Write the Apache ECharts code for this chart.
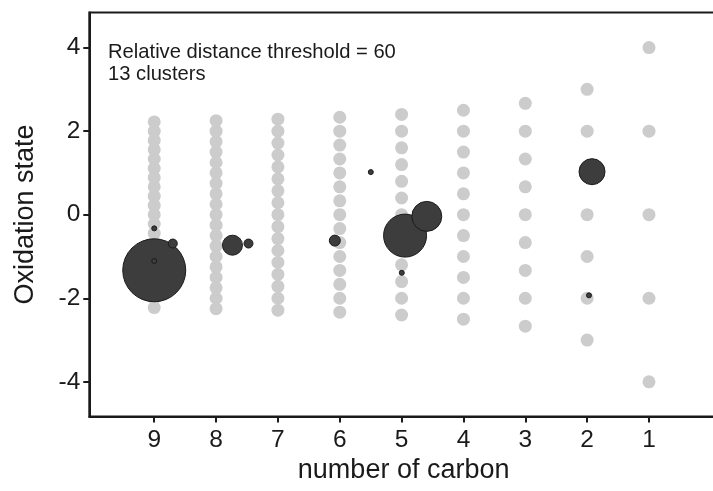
<!DOCTYPE html>
<html>
<head>
<meta charset="utf-8">
<script src="https://cdn.jsdelivr.net/npm/echarts@6/dist/echarts.min.js"></script>
<style>
html,body{margin:0;padding:0;background:#fff;}
#chart{width:713px;height:491px;}
</style>
</head>
<body>
<div id="chart"></div>
<script>
// ---- Data ----
var carbonNumbers = [9, 8, 7, 6, 5, 4, 3, 2, 1];
// possible oxidation states for each carbon number (grey markers)
var osC9 = [-2.222,-2.000,-1.778,-1.556,-1.333,-1.111,-0.889,-0.667,-0.444,-0.222,0,0.222,0.444,0.667,0.889,1.111,1.333,1.556,1.778,2.000,2.222];
var osC8 = [-2.25,-2.00,-1.75,-1.50,-1.25,-1.00,-0.75,-0.50,-0.25,0,0.25,0.50,0.75,1.00,1.25,1.50,1.75,2.00,2.25];
var osC7 = [-2.286,-2.000,-1.714,-1.429,-1.143,-0.857,-0.571,-0.286,0,0.286,0.571,0.857,1.143,1.429,1.714,2.000,2.286];
var osC6 = [-2.333,-2.000,-1.667,-1.333,-1.000,-0.667,-0.333,0,0.333,0.667,1.000,1.333,1.667,2.000,2.333];
var osC5 = [-2.4,-2.0,-1.6,-1.2,-0.8,-0.4,0,0.4,0.8,1.2,1.6,2.0,2.4];
var osC4 = [-2.5,-2.0,-1.5,-1.0,-0.5,0,0.5,1.0,1.5,2.0,2.5];
var osC3 = [-2.667,-2.000,-1.333,-0.667,0,0.667,1.333,2.000,2.667];
var osC2 = [-3,-2,-1,0,1,2,3];
var osC1 = [-4,-2,0,2,4];
var osByCarbon = [osC9, osC8, osC7, osC6, osC5, osC4, osC3, osC2, osC1];

// 13 clusters: mean carbon number, mean oxidation state, relative cluster size
var clusterCarbon = [9.00, 9.00, 9.00, 8.70, 7.735, 7.476, 6.08, 5.498, 4.944, 4.593, 4.997, 1.921, 1.97];
var clusterOS     = [-1.33, -0.327, -1.107, -0.69, -0.73, -0.69, -0.62, 1.02, -0.50, -0.04, -1.39, 1.03, -1.93];
var clusterSize   = [63, 5, 5, 9, 20, 9, 11, 5, 43, 30, 5, 26, 5];

var yTicks = [-4, -2, 0, 2, 4];
var annotation = ['Relative distance threshold = 60', '13 clusters'];

// ---- Build ----
var greyData = [];
carbonNumbers.forEach(function (c, i) {
  osByCarbon[i].forEach(function (v) { greyData.push([c, v]); });
});
var clusterData = clusterCarbon.map(function (c, i) {
  return [c, clusterOS[i], clusterSize[i]];
});

var FONT = 'Liberation Sans, Arial, Helvetica, sans-serif';
var AXIS_LINE = {color: '#1a1a1a', width: 2};
var chart = echarts.init(document.getElementById('chart'), null, {renderer: 'canvas'});
chart.setOption({
  animation: false,
  backgroundColor: '#ffffff',
  title: {
    text: annotation.join('\n'),
    left: 108, top: 42, padding: 0,
    textStyle: {fontFamily: FONT, fontSize: 20.2, fontWeight: 'normal', color: '#1a1a1a', lineHeight: 21.5}
  },
  grid: {
    left: 89.3, top: 12.5, height: 404, width: 628.7,
    outerBoundsMode: 'none', containLabel: false,
    show: true, borderColor: '#1a1a1a', borderWidth: 2, backgroundColor: 'transparent'
  },
  xAxis: {
    type: 'value', inverse: true, min: -0.116, max: 10.05,
    name: 'number of carbon', nameLocation: 'middle', nameGap: 34,
    nameTextStyle: {fontFamily: FONT, fontSize: 27, color: '#1a1a1a'},
    axisLine: {show: true, onZero: false, lineStyle: AXIS_LINE},
    axisTick: {show: true, inside: false, length: 6, lineStyle: AXIS_LINE, customValues: carbonNumbers},
    axisLabel: {fontFamily: FONT, fontSize: 24.5, color: '#1a1a1a', margin: 11, customValues: carbonNumbers},
    splitLine: {show: false}
  },
  yAxis: {
    type: 'value', min: -4.83, max: 4.84,
    name: 'Oxidation state', nameLocation: 'middle', nameGap: 50,
    nameTextStyle: {fontFamily: FONT, fontSize: 27, color: '#1a1a1a'},
    axisLine: {show: true, onZero: false, lineStyle: AXIS_LINE},
    axisTick: {show: true, inside: false, length: 6, lineStyle: AXIS_LINE, customValues: yTicks},
    axisLabel: {fontFamily: FONT, fontSize: 24.5, color: '#1a1a1a', margin: 9, customValues: yTicks},
    splitLine: {show: false}
  },
  series: [
    {
      type: 'scatter', data: greyData, symbolSize: 13, z: 2,
      itemStyle: {color: '#cccccc', opacity: 1}
    },
    {
      type: 'scatter', data: clusterData, z: 3,
      symbolSize: function (d) { return d[2]; },
      itemStyle: {color: '#3d3d3d', borderColor: '#1a1a1a', borderWidth: 1, opacity: 1}
    }
  ]
});
</script>
</body>
</html>
